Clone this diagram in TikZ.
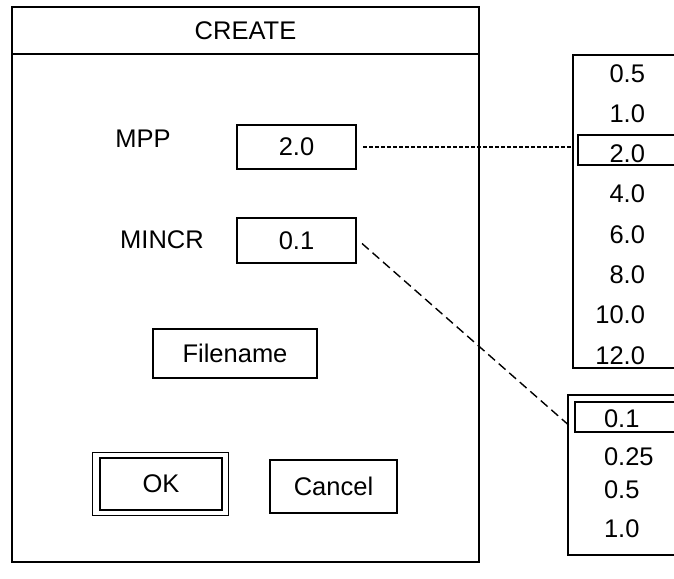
\documentclass[tikz,border=0pt]{standalone}
\usepackage{fontspec}
\setmainfont{Liberation Sans}
\begin{document}
\begin{tikzpicture}[x=1pt,y=-1pt,
  every node/.style={inner sep=0pt, outer sep=0pt, font=\fontsize{25.5}{30}\selectfont},
  frame/.style={draw, line width=1.4pt},
  fld/.style={draw, line width=1.4pt, rectangle},
  item/.style={anchor=base east},
  itemL/.style={anchor=base west},
  finedash/.style={line width=1.1pt, dash pattern=on 4pt off 2pt},
  longdash/.style={line width=1.4pt, dash pattern=on 9pt off 5pt}]
\clip (0,0) rectangle (674,578);
\useasboundingbox (0,0) rectangle (674,578);
% dialog
\node[frame, minimum width=467pt, minimum height=555pt] (dlg) at (245.5,284.5) {};
\node[frame, minimum width=467pt, minimum height=47pt] (title) at (245.5,30.5) {};
\node (tt) at (245.5,31) {CREATE};
% labels and fields
\node (mpp) at (143,139) {MPP};
\node[fld, minimum width=119pt, minimum height=44pt] (mppbox) at (296.5,147) {2.0};
\node (mincr) at (162,240) {MINCR};
\node[fld, minimum width=119pt, minimum height=45pt] (mincrbox) at (296.5,240.5) {0.1};
\node[fld, minimum width=164pt, minimum height=49pt] (file) at (235,353.5) {Filename};
\node[draw, line width=1pt, minimum width=136pt, minimum height=63pt] (okout) at (160,483.5) {};
\node[fld, line width=1.8pt, minimum width=122pt, minimum height=52pt] (ok) at (161,484) {OK};
\node[fld, minimum width=127pt, minimum height=53pt] (cancel) at (333.5,486.5) {Cancel};
% list 1
\node[frame, minimum width=140pt, minimum height=313pt] (list1) at (643,211.5) {};
\node[frame, minimum width=120pt, minimum height=30pt] (hl1) at (638,150) {};
\foreach \t/\y [count=\i] in {0.5/82,1.0/122,2.0/162,4.0/202,6.0/243,8.0/283,10.0/323,12.0/364}
  \node[item] (a\i) at (645,\y) {\t};
% list 2
\node[frame, minimum width=140pt, minimum height=160pt] (list2) at (638,475) {};
\node[frame, minimum width=120pt, minimum height=30pt] (hl2) at (635,417) {};
\foreach \t/\y [count=\i] in {0.1/427,0.25/465,0.5/498,1.0/537}
  \node[itemL] (b\i) at (604,\y) {\t};
% connectors
\coordinate (c1) at (list1.west |- mppbox.east);
\coordinate (c2) at (572,428);
\draw[finedash] ([xshift=7pt]mppbox.east) -- (c1);
\draw[longdash] ([xshift=6pt,yshift=-3pt]mincrbox.east) -- (c2);
\end{tikzpicture}
\end{document}
